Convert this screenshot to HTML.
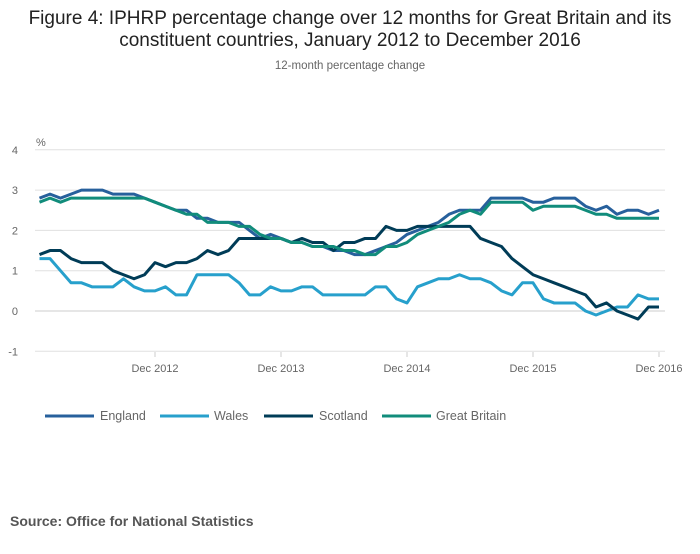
<!DOCTYPE html>
<html><head><meta charset="utf-8"><style>
body{margin:0;background:#fff;font-family:"Liberation Sans","DejaVu Sans",sans-serif;}
svg text{font-family:"Liberation Sans","DejaVu Sans",sans-serif;}
</style></head><body>
<svg id="chart" width="700" height="549" viewBox="0 0 700 549" xmlns="http://www.w3.org/2000/svg">
<text x="350" y="24" text-anchor="middle" font-size="19" fill="#222">Figure 4: IPHRP percentage change over 12 months for Great Britain and its</text>
<text x="350" y="46" text-anchor="middle" font-size="19" fill="#222">constituent countries, January 2012 to December 2016</text>
<text x="350" y="69" text-anchor="middle" font-size="11.5" fill="#666">12-month percentage change</text>
<text x="36" y="146" font-size="11" fill="#666">%</text>
<g id="grid"></g><g id="xaxis"></g><g id="lines"></g>
<g font-size="12.5" fill="#666">
<line x1="45" y1="416" x2="94" y2="416" stroke="#27609c" stroke-width="3"/>
<text x="100" y="420">England</text>
<line x1="160" y1="416" x2="209" y2="416" stroke="#27a0cc" stroke-width="3"/>
<text x="214" y="420">Wales</text>
<line x1="264" y1="416" x2="313" y2="416" stroke="#003c57" stroke-width="3"/>
<text x="319" y="420">Scotland</text>
<line x1="382" y1="416" x2="431" y2="416" stroke="#118c7b" stroke-width="3"/>
<text x="436" y="420">Great Britain</text>
</g>
<text x="10" y="526" font-size="14" font-weight="bold" fill="#555">Source: Office for National Statistics</text>
</svg>
<script>
const yTicks=[4,3,2,1,0,-1];
const xTickLabels=["Dec 2012","Dec 2013","Dec 2014","Dec 2015","Dec 2016"];
const xTickIndex=[11,23,35,47,59];
const england=[2.8,2.9,2.8,2.9,3.0,3.0,3.0,2.9,2.9,2.9,2.8,2.7,
2.6,2.5,2.5,2.3,2.3,2.2,2.2,2.2,2.0,1.8,1.9,1.8,
1.7,1.7,1.6,1.6,1.5,1.5,1.4,1.4,1.5,1.6,1.7,1.9,
2.0,2.1,2.2,2.4,2.5,2.5,2.5,2.8,2.8,2.8,2.8,2.7,
2.7,2.8,2.8,2.8,2.6,2.5,2.6,2.4,2.5,2.5,2.4,2.5];
const wales=[1.3,1.3,1.0,0.7,0.7,0.6,0.6,0.6,0.8,0.6,0.5,0.5,
0.6,0.4,0.4,0.9,0.9,0.9,0.9,0.7,0.4,0.4,0.6,0.5,
0.5,0.6,0.6,0.4,0.4,0.4,0.4,0.4,0.6,0.6,0.3,0.2,
0.6,0.7,0.8,0.8,0.9,0.8,0.8,0.7,0.5,0.4,0.7,0.7,
0.3,0.2,0.2,0.2,0.0,-0.1,0.0,0.1,0.1,0.4,0.3,0.3];
const scotland=[1.4,1.5,1.5,1.3,1.2,1.2,1.2,1.0,0.9,0.8,0.9,1.2,
1.1,1.2,1.2,1.3,1.5,1.4,1.5,1.8,1.8,1.8,1.8,1.8,
1.7,1.8,1.7,1.7,1.5,1.7,1.7,1.8,1.8,2.1,2.0,2.0,
2.1,2.1,2.1,2.1,2.1,2.1,1.8,1.7,1.6,1.3,1.1,0.9,
0.8,0.7,0.6,0.5,0.4,0.1,0.2,0.0,-0.1,-0.2,0.1,0.1];
const greatBritain=[2.7,2.8,2.7,2.8,2.8,2.8,2.8,2.8,2.8,2.8,2.8,2.7,
2.6,2.5,2.4,2.4,2.2,2.2,2.2,2.1,2.1,1.9,1.8,1.8,
1.7,1.7,1.6,1.6,1.6,1.5,1.5,1.4,1.4,1.6,1.6,1.7,
1.9,2.0,2.1,2.2,2.4,2.5,2.4,2.7,2.7,2.7,2.7,2.5,
2.6,2.6,2.6,2.6,2.5,2.4,2.4,2.3,2.3,2.3,2.3,2.3];
const NS="http://www.w3.org/2000/svg";
const x=i=>39.5+i*10.5;
const y=v=>311-v*40.3;
const grid=document.getElementById('grid');
yTicks.forEach(t=>{
 const l=document.createElementNS(NS,'line');
 l.setAttribute('x1',35);l.setAttribute('x2',665);l.setAttribute('y1',y(t));l.setAttribute('y2',y(t));
 l.setAttribute('stroke',t===0?'#ccc':'#e0e0e0');l.setAttribute('stroke-width',1);
 
 
 grid.appendChild(l);
 const tx=document.createElementNS(NS,'text');
 tx.setAttribute('x',18);tx.setAttribute('y',y(t)+4);tx.setAttribute('text-anchor','end');
 tx.setAttribute('font-size','11');tx.setAttribute('fill','#666');tx.textContent=t;
 
 
 grid.appendChild(tx);
});
const xa=document.getElementById('xaxis');
xTickIndex.forEach((idx,k)=>{
 const l=document.createElementNS(NS,'line');
 l.setAttribute('x1',x(idx));l.setAttribute('x2',x(idx));l.setAttribute('y1',352);l.setAttribute('y2',357);
 l.setAttribute('stroke','#ccc');
 
 
 xa.appendChild(l);
 const tx=document.createElementNS(NS,'text');
 tx.setAttribute('x',x(idx));tx.setAttribute('y',372);tx.setAttribute('text-anchor','middle');
 tx.setAttribute('font-size','11');tx.setAttribute('fill','#666');tx.textContent=xTickLabels[k];
 
 
 xa.appendChild(tx);
});
const lines=document.getElementById('lines');
[[england,'#27609c','england-line'],[wales,'#27a0cc','wales-line'],[scotland,'#003c57','scotland-line'],[greatBritain,'#118c7b','great-britain-line']].forEach(([d,c,n])=>{
 const p=document.createElementNS(NS,'polyline');
 p.setAttribute('points',d.map((v,i)=>x(i)+','+y(v)).join(' '));
 p.setAttribute('fill','none');p.setAttribute('stroke',c);p.setAttribute('stroke-width',3);
 p.setAttribute('stroke-linejoin','round');
 
 
 lines.appendChild(p);
});
</script>
</body></html>
